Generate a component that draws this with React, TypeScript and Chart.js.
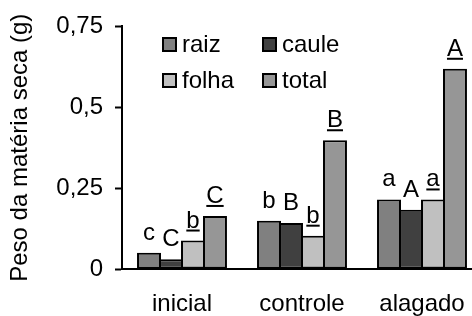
import React, { useEffect, useRef } from "react";
import { Chart, registerables } from "chart.js";

Chart.register(...registerables);

const categories = ["inicial", "controle", "alagado"];
const seriesNames = ["raiz", "caule", "folha", "total"];
const raiz = [0.05, 0.149, 0.215];
const caule = [0.03, 0.142, 0.183];
const folha = [0.088, 0.103, 0.215];
const total = [0.164, 0.398, 0.619];
const raizLetters = ["c", "b", "a"];
const cauleLetters = ["C", "B", "A"];
const folhaLetters = ["b", "b", "a"];
const totalLetters = ["C", "B", "A"];
const underlinedSeries = [false, false, true, true];
const yTicks = [0, 0.25, 0.5, 0.75];
const yTitle = "Peso da matéria seca (g)";

const colors = ["#808080", "#404040", "#c0c0c0", "#969696"];
const FONT = '"Liberation Sans", Arial, sans-serif';
const FS = 24;

const seriesValues = [raiz, caule, folha, total];
const seriesLetters = [raizLetters, cauleLetters, folhaLetters, totalLetters];

const legendPlugin = {
  id: "gridLegend",
  afterDraw(chart: any) {
    const ctx = chart.ctx;
    ctx.save();
    const x0 = 162, y0 = 37, colW = 100, rowH = 36, box = 15;
    chart.data.datasets.forEach((ds: any, i: number) => {
      const col = i % 2;
      const row = Math.floor(i / 2);
      const x = x0 + col * colW;
      const y = y0 + row * rowH;
      ctx.fillStyle = ds.backgroundColor;
      ctx.fillRect(x, y, box, box);
      ctx.lineWidth = 2;
      ctx.strokeStyle = "#000";
      ctx.strokeRect(x + 1, y + 1, box - 2, box - 2);
      ctx.fillStyle = "#000";
      ctx.font = `${FS}px ${FONT}`;
      ctx.textAlign = "left";
      ctx.textBaseline = "alphabetic";
      ctx.fillText(ds.label, x + box + 5, y + box);
    });
    ctx.restore();
  },
};

const letterPlugin = {
  id: "barLetters",
  afterDatasetsDraw(chart: any) {
    const ctx = chart.ctx;
    ctx.save();
    ctx.font = `${FS}px ${FONT}`;
    ctx.fillStyle = "#000";
    ctx.textAlign = "center";
    ctx.textBaseline = "alphabetic";
    chart.data.datasets.forEach((ds: any, i: number) => {
      const meta = chart.getDatasetMeta(i);
      meta.data.forEach((bar: any, j: number) => {
        const txt = seriesLetters[i][j];
        const x = bar.x;
        const y = bar.y - 13;
        ctx.fillText(txt, x, y);
        if (underlinedSeries[i]) {
          const w = ctx.measureText(txt).width;
          ctx.fillRect(x - w / 2, y + 2, w, 2);
        }
      });
    });
    ctx.restore();
  },
};

export default function App() {
  const ref = useRef<HTMLCanvasElement | null>(null);

  useEffect(() => {
    if (!ref.current) return;
    Chart.defaults.color = "#000";
    const chart = new Chart(ref.current, {
      type: "bar",
      data: {
        labels: categories,
        datasets: seriesNames.map((name, i) => ({
          label: name,
          data: seriesValues[i],
          backgroundColor: colors[i],
          borderColor: "#000",
          borderWidth: 2,
          borderSkipped: false,
          categoryPercentage: 0.733,
          barPercentage: 1.09,
        })),
      },
      options: {
        responsive: false,
        animation: false,
        devicePixelRatio: 1,
        layout: { padding: { left: 0, top: 24, right: 18, bottom: 0 } },
        plugins: {
          legend: { display: false },
          tooltip: { enabled: false },
        },
        scales: {
          x: {
            grid: { display: true, drawOnChartArea: false, drawTicks: false },
            border: { display: true, color: "#000", width: 2 },
            ticks: {
              color: "#000",
              font: { family: FONT, size: FS },
              padding: 21,
              maxRotation: 0,
            },
            afterFit: (s: any) => {
              s.height = 47;
            },
          },
          y: {
            min: 0,
            max: 0.75,
            afterBuildTicks: (s: any) => {
              s.ticks = yTicks.map((v) => ({ value: v }));
            },
            grid: {
              display: true,
              drawOnChartArea: false,
              drawTicks: true,
              tickLength: 7,
              tickColor: "#000",
              tickWidth: 2,
            },
            border: { display: true, color: "#000", width: 2 },
            ticks: {
              color: "#000",
              font: { family: FONT, size: FS },
              padding: 12,
              callback: (v: any) => String(v).replace(".", ","),
            },
            title: {
              display: true,
              text: yTitle,
              color: "#000",
              font: { family: FONT, size: FS },
              padding: { top: 6, bottom: 0 },
            },
            afterFit: (s: any) => {
              s.width = 122;
            },
          },
        },
      },
      plugins: [letterPlugin, legendPlugin],
    } as any);
    return () => chart.destroy();
  }, []);

  return (
    <div
      style={{
        position: "fixed",
        left: 0,
        top: 0,
        width: 472,
        height: 316,
        overflow: "hidden",
        background: "#fff",
      }}
    >
      <canvas ref={ref} width={500} height={316} style={{ display: "block" }} />
    </div>
  );
}
